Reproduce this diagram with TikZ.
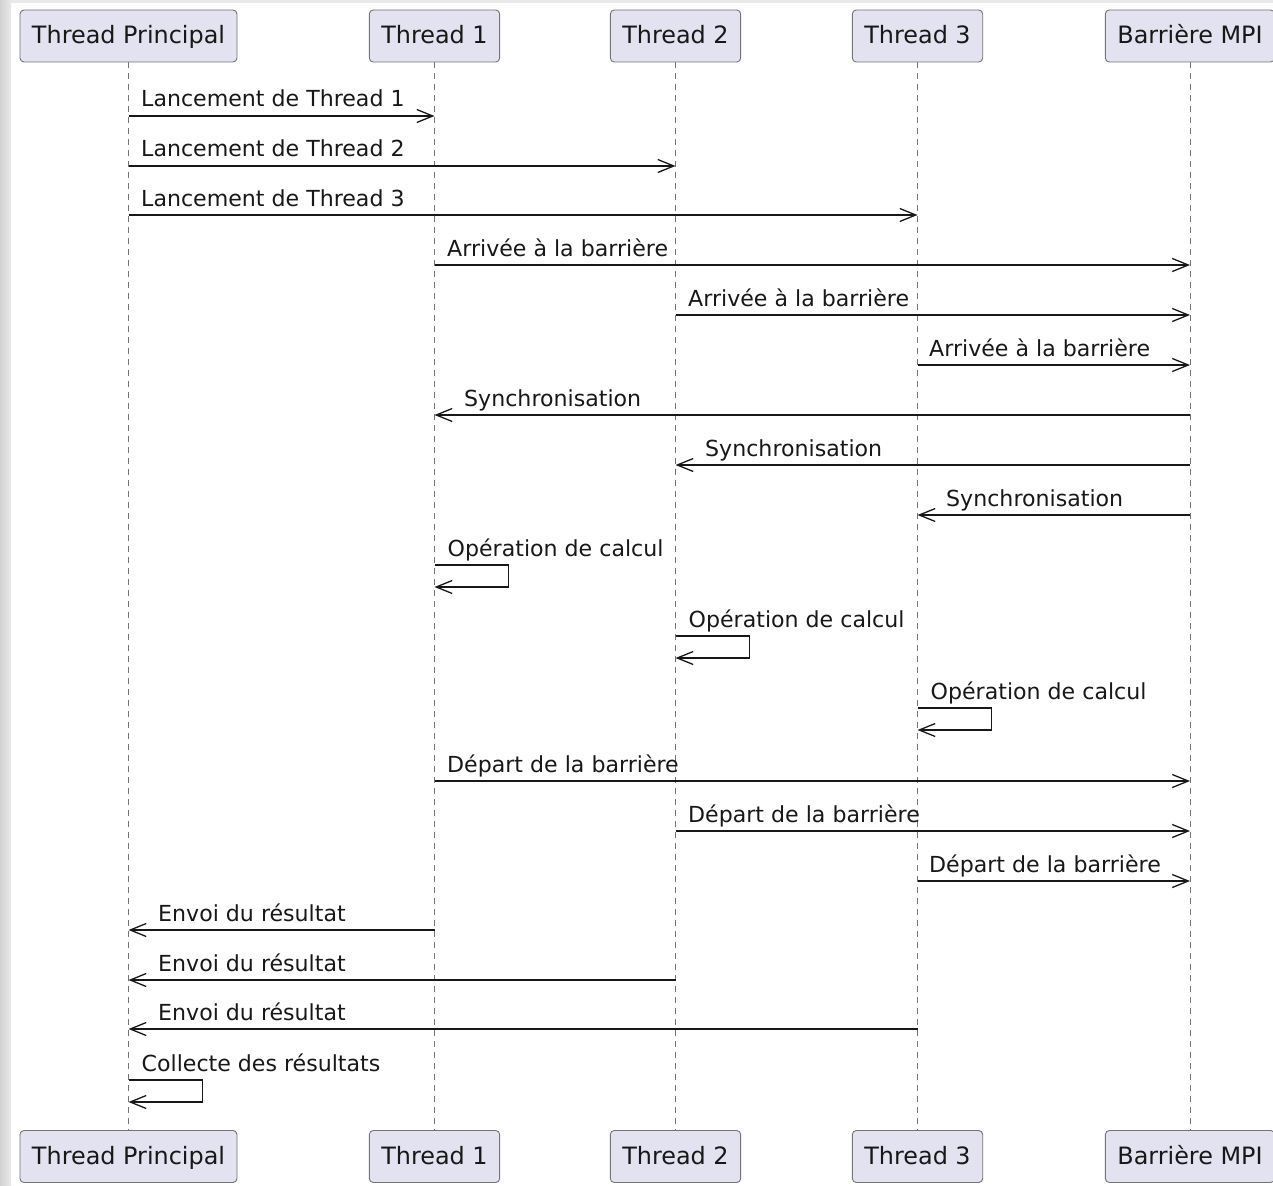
\documentclass[tikz,border=0pt]{standalone}
\usepackage{fontspec}
\setmainfont{DejaVu Sans}
\usetikzlibrary{arrows.meta}
\definecolor{partfill}{HTML}{E2E2F0}
\definecolor{ink}{HTML}{181818}
\definecolor{frame}{HTML}{E9E9E9}
\tikzset{
  part/.style={draw=ink!60, line width=0.9pt, fill=partfill, rounded corners=4pt,
    inner xsep=12pt, inner ysep=0pt, text height=34pt, text depth=18pt,
    font=\fontsize{23.9}{28}\selectfont, text=ink},
  life/.style={draw=ink!60, line width=1pt, dash pattern=on 6pt off 5pt},
  msg/.style={draw=ink, line width=1.3pt,
    -{Straight Barb[length=16pt, width=13pt, line width=1.3pt]}},
  lbl/.style={anchor=base west, inner sep=0pt, text=ink,
    font=\fontsize{22.1}{26}\selectfont},
}
% message between two lifelines: from, to, y, label x, label
\newcommand\sendmsg[5]{%
  \draw[msg] (#1 |- 0,#3) -- (#2 |- 0,#3);
  \node[lbl] at (#4,#3-9) {#5};}
% message to self on one lifeline: lifeline, y, label
\newcommand\selfmsg[3]{%
  \draw[msg] (#1 |- 0,#2) -- ++(74,0) -- ++(0,22) -- (#1 |- 0,#2+22);
  \node[lbl] at ([xshift=13pt]#1 |- 0,#2-9) {#3};}
\begin{document}
\begin{tikzpicture}[x=1pt,y=-1pt]
  \useasboundingbox (0,0) rectangle (1273,1185);
  \shade[left color=frame!90!black, right color=frame] (0,0) rectangle (11,1185);
  \fill[frame] (11,0) rectangle (1273,3);
  \fill[white] (11,3) rectangle (1273,1185);

  % participants, top and bottom
  \node[part] (tp) at (128.5,36) {Thread Principal};
  \node[part] (t1) at (434.5,36) {Thread 1};
  \node[part] (t2) at (675.5,36) {Thread 2};
  \node[part] (t3) at (917.5,36) {Thread 3};
  \node[part] (mb) at (1190,36) {Barrière MPI};
  \node[part] (tpB) at (128.5,1156.5) {Thread Principal};
  \node[part] (t1B) at (434.5,1156.5) {Thread 1};
  \node[part] (t2B) at (675.5,1156.5) {Thread 2};
  \node[part] (t3B) at (917.5,1156.5) {Thread 3};
  \node[part] (mbB) at (1190,1156.5) {Barrière MPI};

  % lifelines
  \foreach \a/\b in {tp/tpB, t1/t1B, t2/t2B, t3/t3B, mb/mbB}
    \draw[life] (\a.south) -- (\b.north);

  % messages
  \sendmsg{tp}{t1}{116}{141}{Lancement de Thread 1}
  \sendmsg{tp}{t2}{166}{141}{Lancement de Thread 2}
  \sendmsg{tp}{t3}{215}{141}{Lancement de Thread 3}
  \sendmsg{t1}{mb}{265}{447}{Arrivée à la barrière}
  \sendmsg{t2}{mb}{315}{688}{Arrivée à la barrière}
  \sendmsg{t3}{mb}{365}{929}{Arrivée à la barrière}
  \sendmsg{mb}{t1}{415}{464}{Synchronisation}
  \sendmsg{mb}{t2}{465}{705}{Synchronisation}
  \sendmsg{mb}{t3}{515}{946}{Synchronisation}
  \selfmsg{t1}{565}{Opération de calcul}
  \selfmsg{t2}{636}{Opération de calcul}
  \selfmsg{t3}{708}{Opération de calcul}
  \sendmsg{t1}{mb}{781}{447}{Départ de la barrière}
  \sendmsg{t2}{mb}{831}{688}{Départ de la barrière}
  \sendmsg{t3}{mb}{881}{929}{Départ de la barrière}
  \sendmsg{t1}{tp}{930}{158}{Envoi du résultat}
  \sendmsg{t2}{tp}{980}{158}{Envoi du résultat}
  \sendmsg{t3}{tp}{1029}{158}{Envoi du résultat}
  \selfmsg{tp}{1080}{Collecte des résultats}
\end{tikzpicture}
\end{document}
